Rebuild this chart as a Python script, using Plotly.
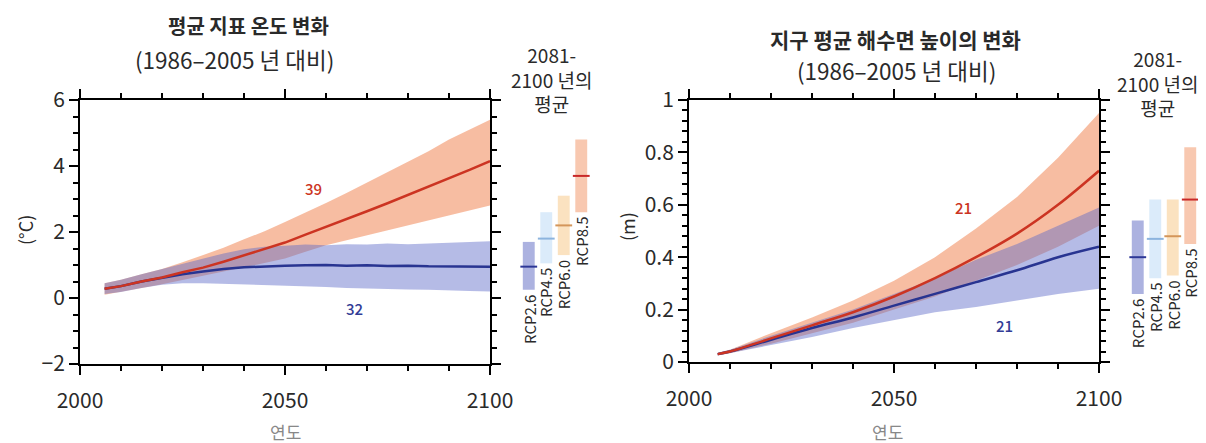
import plotly.graph_objects as go

# page is rendered with an 8px body margin: figure size compensates
OFF = 8
W, H = 1206 - OFF, 443 - OFF

# ---------------- data: surface temperature (left) ----------------
years_t = [2006, 2010, 2015, 2020, 2025, 2030, 2035, 2040, 2045, 2050,
           2055, 2060, 2065, 2070, 2075, 2080, 2085, 2090, 2095, 2100]
rcp85_t = [0.28, 0.36, 0.50, 0.62, 0.78, 0.92, 1.10, 1.30, 1.48, 1.68,
           1.92, 2.15, 2.40, 2.63, 2.87, 3.12, 3.38, 3.62, 3.88, 4.15]
rcp85_t_hi = [0.45, 0.55, 0.72, 0.88, 1.08, 1.30, 1.52, 1.78, 2.02, 2.30,
              2.58, 2.88, 3.18, 3.50, 3.82, 4.15, 4.45, 4.80, 5.10, 5.40]
rcp85_t_lo = [0.10, 0.18, 0.30, 0.42, 0.55, 0.66, 0.80, 0.93, 1.06, 1.20,
              1.40, 1.60, 1.75, 1.90, 2.05, 2.20, 2.35, 2.50, 2.65, 2.80]
rcp26_t = [0.28, 0.36, 0.50, 0.62, 0.72, 0.80, 0.88, 0.93, 0.96, 0.98,
           0.99, 1.00, 0.98, 0.99, 0.97, 0.98, 0.96, 0.95, 0.96, 0.95]
rcp26_t_hi = [0.45, 0.55, 0.72, 0.88, 1.05, 1.20, 1.35, 1.48, 1.55, 1.58,
              1.62, 1.60, 1.63, 1.62, 1.65, 1.63, 1.66, 1.68, 1.70, 1.72]
rcp26_t_lo = [0.12, 0.18, 0.30, 0.40, 0.45, 0.45, 0.44, 0.42, 0.40, 0.37,
              0.35, 0.33, 0.30, 0.30, 0.27, 0.26, 0.25, 0.24, 0.21, 0.20]

# ---------------- data: sea level (right) ----------------
years_s = [2007, 2010, 2020, 2030, 2040, 2050, 2060, 2070, 2080, 2090, 2100]
rcp85_s = [0.03, 0.04, 0.09, 0.14, 0.19, 0.25, 0.32, 0.40, 0.49, 0.60, 0.73]
rcp85_s_hi = [0.035, 0.047, 0.11, 0.17, 0.235, 0.31, 0.40, 0.51, 0.63, 0.78, 0.95]
rcp85_s_lo = [0.025, 0.033, 0.07, 0.11, 0.15, 0.20, 0.25, 0.31, 0.37, 0.44, 0.52]
rcp26_s = [0.03, 0.04, 0.085, 0.13, 0.17, 0.215, 0.26, 0.305, 0.35, 0.40, 0.44]
rcp26_s_hi = [0.035, 0.047, 0.10, 0.15, 0.20, 0.26, 0.32, 0.39, 0.45, 0.52, 0.59]
rcp26_s_lo = [0.025, 0.033, 0.065, 0.095, 0.13, 0.16, 0.19, 0.21, 0.235, 0.26, 0.28]

# ---------------- data: 2081-2100 means ----------------
scenarios = ["RCP2.6", "RCP4.5", "RCP6.0", "RCP8.5"]
temp_mean = [0.95, 1.8, 2.2, 3.7]
temp_lo = [0.25, 1.05, 1.3, 2.6]
temp_hi = [1.7, 2.6, 3.1, 4.8]
sea_mean = [0.40, 0.47, 0.48, 0.62]
sea_lo = [0.26, 0.32, 0.33, 0.45]
sea_hi = [0.54, 0.62, 0.62, 0.82]

labels_t = {"RCP8.5": ("39", 2057, 3.33), "RCP2.6": ("32", 2067, -0.33)}
labels_s = {"RCP8.5": ("21", 2067, 0.59), "RCP2.6": ("21", 2077, 0.14)}

# ---------------- styles ----------------
ORANGE_FILL = "rgba(240,128,76,0.52)"
BLUE_FILL = "rgba(92,104,200,0.45)"
RED_LINE = "rgb(204,52,34)"
BLUE_LINE = "rgb(40,52,145)"
bar_fill = ["rgb(172,178,224)", "rgb(219,235,250)", "rgb(251,226,192)", "rgb(248,200,176)"]
bar_mean = ["rgb(45,55,150)", "rgb(140,180,222)", "rgb(212,150,90)", "rgb(200,40,40)"]
NUM_FONT = "Liberation Sans Narrow, Noto Sans CJK KR, sans-serif"
KR_FONT = "Noto Sans CJK KR, sans-serif"
TXT = "#2a2a2a"


def px(x):
    return (x - OFF) / W


def py(y):
    return 1 - (y - OFF) / H


fig = go.Figure()


def band(x, lo, hi, color, xa, ya):
    fig.add_trace(go.Scatter(x=list(x) + list(x)[::-1], y=list(hi) + list(lo)[::-1],
                             fill="toself", fillcolor=color, mode="lines",
                             line=dict(width=0, color=color), hoverinfo="skip",
                             showlegend=False, xaxis=xa, yaxis=ya))


def line(x, y, color, xa, ya, shape="linear"):
    fig.add_trace(go.Scatter(x=x, y=y, mode="lines", line=dict(color=color, width=2.5, shape=shape),
                             showlegend=False, xaxis=xa, yaxis=ya))


# left panel
band(years_t, rcp85_t_lo, rcp85_t_hi, ORANGE_FILL, "x", "y")
band(years_t, rcp26_t_lo, rcp26_t_hi, BLUE_FILL, "x", "y")
line(years_t, rcp26_t, BLUE_LINE, "x", "y")
line(years_t, rcp85_t, RED_LINE, "x", "y")

# right panel
band(years_s, rcp85_s_lo, rcp85_s_hi, ORANGE_FILL, "x2", "y2")
band(years_s, rcp26_s_lo, rcp26_s_hi, BLUE_FILL, "x2", "y2")
line(years_s, rcp26_s, BLUE_LINE, "x2", "y2", "spline")
line(years_s, rcp85_s, RED_LINE, "x2", "y2", "spline")

# side bars
pos = [1, 2, 3, 4]
for xa, ya, lo, hi, mn in [("x3", "y3", temp_lo, temp_hi, temp_mean),
                           ("x4", "y4", sea_lo, sea_hi, sea_mean)]:
    fig.add_trace(go.Bar(x=pos, y=[h - l for h, l in zip(hi, lo)], base=lo, width=0.68,
                         marker=dict(color=bar_fill, line=dict(width=0)),
                         showlegend=False, xaxis=xa, yaxis=ya))
    fig.add_trace(go.Scatter(x=pos, y=mn, mode="markers",
                             marker=dict(symbol="line-ew", size=12,
                                         line=dict(width=2, color=bar_mean)),
                             showlegend=False, xaxis=xa, yaxis=ya))
    for p, s, l in zip(pos, scenarios, lo):
        fig.add_annotation(x=p, y=l, xref=xa, yref=ya, text=s, showarrow=False,
                           textangle=-90, xanchor="center", yanchor="top", yshift=-3,
                           font=dict(family=KR_FONT, size=15, color=TXT))

# numbers of models
for (xa, ya, d) in [("x", "y", labels_t), ("x2", "y2", labels_s)]:
    for k, (t, xx, yy) in d.items():
        fig.add_annotation(x=xx, y=yy, xref=xa, yref=ya, text=t, showarrow=False,
                           font=dict(family=KR_FONT, size=15, weight=500,
                                     color=RED_LINE if k == "RCP8.5" else "rgb(50,60,150)"))


# titles
def txt(x, y, t, size, color=TXT, angle=0, family=KR_FONT):
    fig.add_annotation(x=px(x), y=py(y), xref="paper", yref="paper", text=t, showarrow=False,
                       xanchor="center", yanchor="middle", textangle=angle,
                       font=dict(family=family, size=size, color=color))


txt(248, 25, "<b>평균 지표 온도 변화</b>", 20)
txt(234, 59, "(1986–2005 년 대비)", 22.5)
txt(895, 39, "<b>지구 평균 해수면 높이의 변화</b>", 21)
txt(896, 70, "(1986–2005 년 대비)", 22.5)
txt(551, 79, "2081-<br>2100 년의<br>평균", 19)
txt(1157, 83, "2081-<br>2100 년의<br>평균", 19)
txt(25, 230, "(°C)", 18, angle=-90)
txt(627, 227, "(m)", 18, angle=-90)
txt(285, 431, "연도", 17, color="#888888")
txt(887, 431, "연도", 17, color="#888888")

axis_common = dict(showline=True, linecolor="black", linewidth=2, mirror="allticks",
                   ticks="outside", ticklen=9, tickwidth=2, tickcolor="black",
                   showgrid=False, zeroline=False, automargin=False,
                   tickfont=dict(family=NUM_FONT, size=21, color=TXT))
hidden = dict(visible=False, automargin=False, showgrid=False, zeroline=False)
xminor = dict(dtick=10, tick0=2000, ticklen=5, tickwidth=1.5, ticks="outside",
              tickcolor="black", showgrid=False)

fig.update_layout(
    template="none",
    width=W, height=H, margin=dict(l=0, r=0, t=0, b=0, autoexpand=False),
    paper_bgcolor="white", plot_bgcolor="rgba(0,0,0,0)", barmode="overlay",
    xaxis=dict(domain=[px(80), px(490)], range=[2000, 2100], tickvals=[2000, 2050, 2100],
               minor=xminor, ticklabelstandoff=8, anchor="y", **axis_common),
    yaxis=dict(domain=[py(364), py(100)], range=[-2, 6], dtick=2,
               minor=dict(dtick=0.5, ticklen=5, tickwidth=1.5, ticks="outside", tickcolor="black",
                          showgrid=False),
               anchor="x", **axis_common),
    xaxis2=dict(domain=[px(689), px(1099)], range=[2000, 2100], tickvals=[2000, 2050, 2100],
                minor=xminor, ticklabelstandoff=8, anchor="y2", **axis_common),
    yaxis2=dict(domain=[py(362), py(100)], range=[0, 1], tickvals=[0, 0.2, 0.4, 0.6, 0.8, 1],
                ticktext=["0", "0.2", "0.4", "0.6", "0.8", "1"],
                minor=dict(dtick=0.04, ticklen=5, tickwidth=1.5, ticks="outside", tickcolor="black",
                           showgrid=False),
                anchor="x2", **axis_common),
    xaxis3=dict(domain=[px(520), px(590)], range=[0.5, 4.5], anchor="y3", **hidden),
    yaxis3=dict(domain=[py(364), py(100)], range=[-2, 6], anchor="x3", **hidden),
    xaxis4=dict(domain=[px(1129), px(1199)], range=[0.5, 4.5], anchor="y4", **hidden),
    yaxis4=dict(domain=[py(362), py(100)], range=[0, 1], anchor="x4", **hidden),
)

fig.write_html("out.html")
